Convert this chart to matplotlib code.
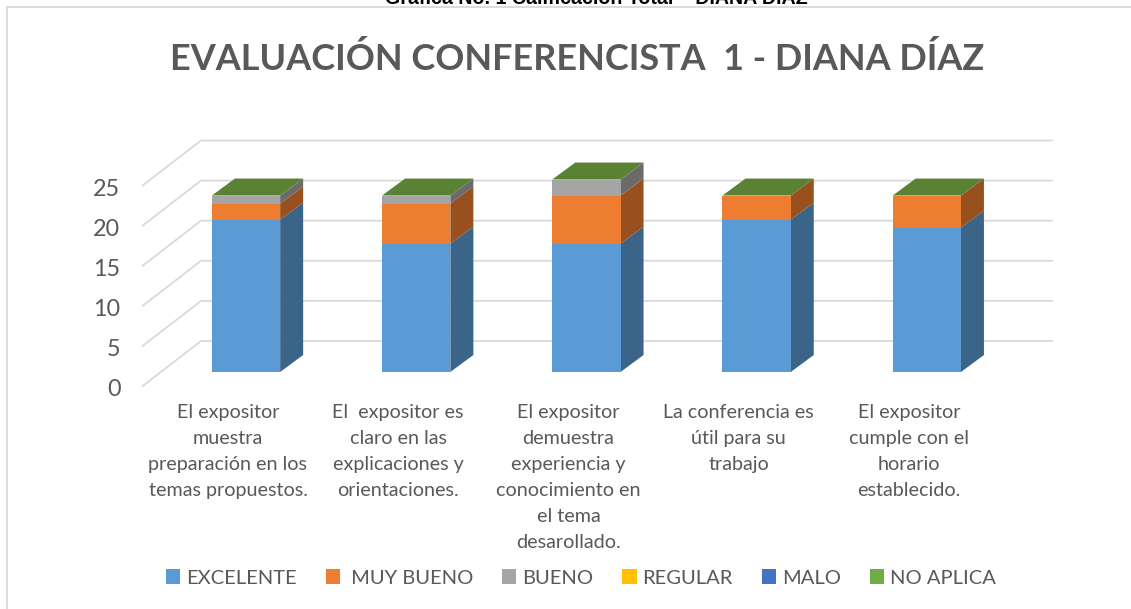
import matplotlib
matplotlib.use("Agg")
import matplotlib.pyplot as plt
from matplotlib.patches import Patch
from matplotlib.lines import Line2D

categories = [
    "El expositor\nmuestra\npreparación en los\ntemas propuestos.",
    "El  expositor es\nclaro en las\nexplicaciones y\norientaciones.",
    "El expositor\ndemuestra\nexperiencia y\nconocimiento en\nel tema\ndesarollado.",
    "La conferencia es\nútil para su\ntrabajo",
    "El expositor\ncumple con el\nhorario\nestablecido.",
]
series_names = ["EXCELENTE", " MUY BUENO", "BUENO", "REGULAR", "MALO", "NO APLICA"]
excelente = [19, 16, 16, 19, 18]
muy_bueno = [2, 5, 6, 3, 4]
bueno = [1, 1, 2, 0, 0]
regular = [0, 0, 0, 0, 0]
malo = [0, 0, 0, 0, 0]
no_aplica = [0, 0, 0, 0, 0]
series = [excelente, muy_bueno, bueno, regular, malo, no_aplica]
y_ticks = [0, 5, 10, 15, 20, 25]

front_colors = ["#5B9BD5", "#ED7D31", "#A5A5A5", "#FFC000", "#4472C4", "#70AD47"]
side_colors = ["#3A6488", "#99501F", "#6B6B6B", "#A67C00", "#2C4A7F", "#5A8235"]
TEXT = "#595959"
GRID = "#D9D9D9"
W, H = 1131, 609
FONT = "Lato"

fig = plt.figure(figsize=(W / 100, H / 100), dpi=100, facecolor="white")

# axes box in pixels; value 0 on the bars' front plane sits at py=372
PX_X0, PX_X1 = 142.7, 1052.0
PX_Y0, PX_Y1 = 399.0, 130.0
ax = fig.add_axes([PX_X0 / W, 1 - PX_Y0 / H, (PX_X1 - PX_X0) / W, (PX_Y0 - PX_Y1) / H])
PX_PER_CAT, PX_PER_VAL = 170.2, 8.02
ax.set_xlim((PX_X0 - 246) / PX_PER_CAT, (PX_X1 - 246) / PX_PER_CAT)
ax.set_ylim((372 - PX_Y0) / PX_PER_VAL, (372 - PX_Y1) / PX_PER_VAL)
ax.patch.set_visible(False)
for s in ax.spines.values():
    s.set_visible(False)

# oblique wall/floor offsets
wall_front = (372 - 386) / PX_PER_VAL
wall_back = (372 - 341) / PX_PER_VAL
x_front, x_back, x_right = ax.get_xlim()[0], (201 - 246) / PX_PER_CAT, ax.get_xlim()[1]
for v in y_ticks:
    ax.plot([x_front, x_back, x_right], [v + wall_front, v + wall_back, v + wall_back],
            color=GRID, lw=1.3, zorder=1, solid_joinstyle="miter", clip_on=False)

bar_w = 68.3 / PX_PER_CAT
dx, dy = 23 / PX_PER_CAT, 17 / PX_PER_VAL
xs = list(range(len(categories)))
bottoms = [0] * len(xs)
for vals, fc, sc in zip(series, front_colors, side_colors):
    ax.bar(xs, vals, bottom=bottoms, width=bar_w, color=fc, zorder=3, linewidth=0)
    for x, b, val in zip(xs, bottoms, vals):
        if val > 0:
            r = x + bar_w / 2
            ax.fill([r, r + dx, r + dx, r], [b, b + dy, b + val + dy, b + val],
                    color=sc, lw=0, zorder=2.5)
    bottoms = [b + v for b, v in zip(bottoms, vals)]

# top face takes the colour of the last (zero-height) stacked series
for x, t in zip(xs, bottoms):
    l, r = x - bar_w / 2, x + bar_w / 2
    ax.fill([l, r, r + dx, l + dx], [t, t, t + dy, t + dy], color=side_colors[-1], lw=0, zorder=3.5)

# axis labels
ax.set_yticks([v + wall_front - 0.2 for v in y_ticks], [str(v) for v in y_ticks])
ax.tick_params(axis="y", length=0, pad=16, labelsize=16.8, labelcolor=TEXT)
ax.set_xticks([x - 18 / PX_PER_CAT for x in xs], categories)
ax.tick_params(axis="x", length=0, pad=3.8, labelsize=14.2, labelcolor=TEXT)
for lab in ax.get_xticklabels():
    lab.set_linespacing(1.64)
    lab.set_fontfamily(FONT)
for lab in ax.get_yticklabels():
    lab.set_fontfamily(FONT)

# frame
fig.add_artist(Line2D([7 / W, 7 / W, 1], [0, 1 - 7 / H, 1 - 7 / H], color=GRID, lw=1.3,
                      solid_joinstyle="miter"))

fig.text(596.5 / W, 1 - 4 / H, "Grafica No. 1 Calificación Total – DIANA DÍAZ", ha="center", va="baseline",
         family="Liberation Sans", weight="bold", fontsize=14.1, color="#000000")
fig.text(577.5 / W, 1 - 70 / H, "EVALUACIÓN CONFERENCISTA  1 - DIANA DÍAZ", ha="center", va="baseline",
         family=FONT, weight="bold", fontsize=25.9, color=TEXT)

handles = [Patch(facecolor=c, edgecolor="none", label=n) for c, n in zip(front_colors, series_names)]
fig.legend(handles=handles, loc="center", bbox_to_anchor=(581 / W, 1 - 578 / H), ncol=6, frameon=False,
           prop={"family": FONT, "size": 14.5}, labelcolor=TEXT, handlelength=0.7, handleheight=0.7,
           handletextpad=0.3, columnspacing=1.44, borderpad=0, borderaxespad=0)

fig.savefig("out.png", dpi=100, facecolor="white")
